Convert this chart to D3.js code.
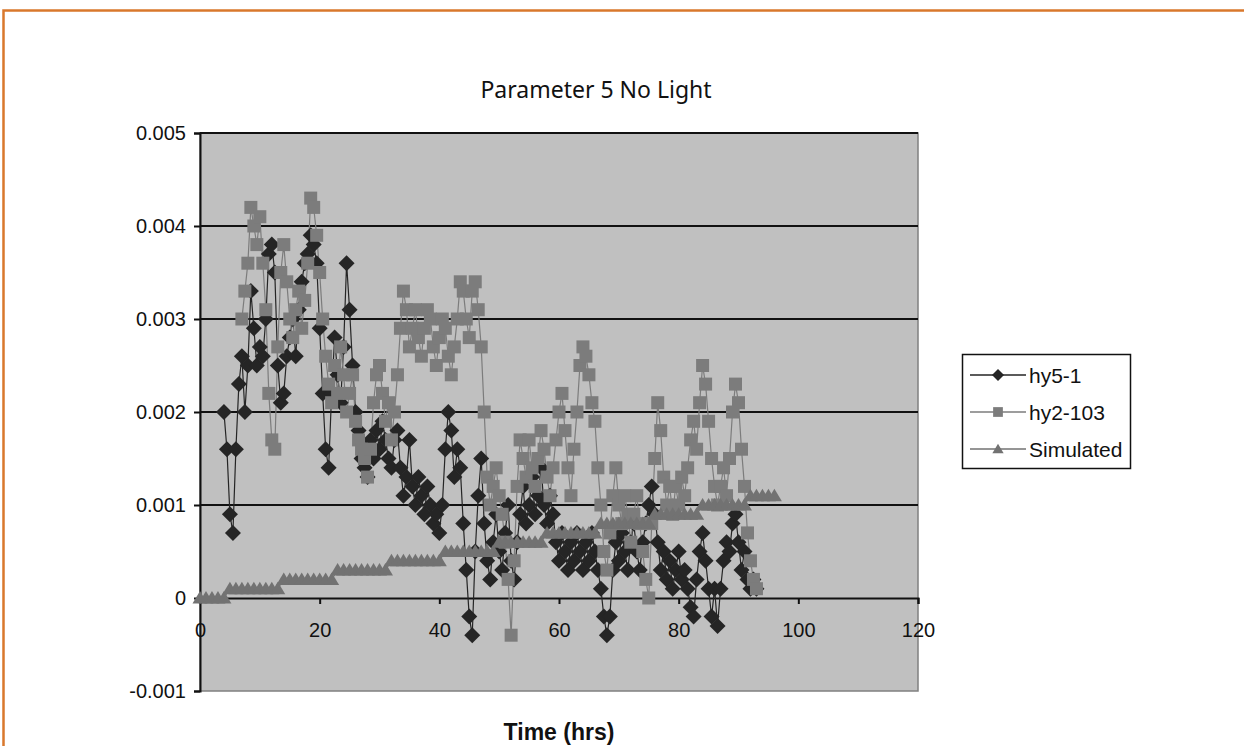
<!DOCTYPE html>
<html>
<head>
<meta charset="utf-8">
<script src="https://cdnjs.cloudflare.com/ajax/libs/d3/7.8.5/d3.min.js"></script>
<style>
  body { margin: 0; background: #fff; }
  svg { display: block; }
</style>
</head>
<body>
<script>
// readings every half hour
let hy51Start = 4.0;
let hy51Values = [
  0.0020, 0.0016, 0.0009, 0.0007, 0.0016, 0.0023, 0.0026, 0.0020, 0.0025, 0.0033,
  0.0029, 0.0025, 0.0027, 0.0026, 0.0030, 0.0037, 0.0038, 0.0035, 0.0025, 0.0021,
  0.0022, 0.0026, 0.0028, 0.0030, 0.0026, 0.0031, 0.0034, 0.0036, 0.0037, 0.0039,
  0.0038, 0.0036, 0.0029, 0.0022, 0.0016, 0.0014, 0.0022, 0.0028, 0.0024, 0.0021,
  0.0027, 0.0036, 0.0031, 0.0025, 0.0020, 0.0018, 0.0015, 0.0014, 0.0013, 0.0017,
  0.0015, 0.0018, 0.0016, 0.0019, 0.0017, 0.0015, 0.0014, 0.0017, 0.0018, 0.0014,
  0.0011, 0.0013, 0.0017, 0.0012, 0.0010, 0.0013, 0.0011, 0.0009, 0.0012, 0.0010,
  0.0008, 0.0009, 0.0007, 0.0010, 0.0016, 0.0020, 0.0018, 0.0013, 0.0016, 0.0014,
  0.0008, 0.0003, -0.0002, -0.0004, 0.0005, 0.0011, 0.0015, 0.0008, 0.0004, 0.0002,
  0.0006, 0.0009, 0.0005, 0.0003, 0.0007, 0.0010, 0.0004, 0.0002, 0.0006, 0.0009,
  0.0012, 0.0008, 0.0010, 0.0013, 0.0009, 0.0011, 0.0014, 0.0010, 0.0008, 0.0011,
  0.0009, 0.0006, 0.0004, 0.0007, 0.0005, 0.0003, 0.0006, 0.0004, 0.0007, 0.0005,
  0.0003, 0.0006, 0.0004, 0.0007, 0.0005, 0.0003, 0.0001, -0.0002, -0.0004, -0.0002,
  0.0003, 0.0006, 0.0004, 0.0007, 0.0005, 0.0003, 0.0006, 0.0008, 0.0005, 0.0003,
  0.0006, 0.0008, 0.0010, 0.0012, 0.0009, 0.0006, 0.0003, 0.0005, 0.0002, 0.0004,
  0.0001, 0.0003, 0.0005, 0.0002, 0.0003, 0.0001, -0.0001, -0.0002, 0.0002, 0.0005,
  0.0007, 0.0004, 0.0001, -0.0002, 0.0001, -0.0003, 0.0001, 0.0004, 0.0006, 0.0005,
  0.0008, 0.0009, 0.0006, 0.0003, 0.0005, 0.0002, 0.0001, 0.0002, 0.0001
];

let hy2Start = 7.0;
let hy2Values = [
  0.0030, 0.0033, 0.0036, 0.0042, 0.0040, 0.0038, 0.0041, 0.0036, 0.0031, 0.0022,
  0.0017, 0.0016, 0.0027, 0.0035, 0.0038, 0.0034, 0.0030, 0.0028, 0.0031, 0.0033,
  0.0029, 0.0032, 0.0036, 0.0043, 0.0042, 0.0039, 0.0035, 0.0030, 0.0026, 0.0023,
  0.0021, 0.0025, 0.0022, 0.0027, 0.0024, 0.0020, 0.0022, 0.0024, 0.0019, 0.0017,
  0.0016, 0.0015, 0.0013, 0.0016, 0.0021, 0.0024, 0.0025, 0.0022, 0.0019, 0.0021,
  0.0017, 0.0020, 0.0024, 0.0029, 0.0033, 0.0031, 0.0027, 0.0029, 0.0031, 0.0028,
  0.0026, 0.0029, 0.0031, 0.0030, 0.0027, 0.0025, 0.0028, 0.0030, 0.0029, 0.0026,
  0.0024, 0.0027, 0.0030, 0.0034, 0.0033, 0.0030, 0.0028, 0.0033, 0.0034, 0.0031,
  0.0027, 0.0020, 0.0013, 0.0010, 0.0012, 0.0014, 0.0011, 0.0009, 0.0006, 0.0002,
  -0.0004, 0.0004, 0.0012, 0.0017, 0.0015, 0.0013, 0.0017, 0.0014, 0.0012, 0.0015,
  0.0018, 0.0016, 0.0013, 0.0011, 0.0014, 0.0017, 0.0020, 0.0022, 0.0018, 0.0014,
  0.0011, 0.0016, 0.0020, 0.0025, 0.0027, 0.0026, 0.0024, 0.0021, 0.0019, 0.0014,
  0.0010, 0.0005, 0.0003, 0.0007, 0.0011, 0.0014, 0.0010, 0.0008, 0.0011, 0.0009,
  0.0006, 0.0009, 0.0011, 0.0008, 0.0005, 0.0002, 0.0000, 0.0008, 0.0015, 0.0021,
  0.0018, 0.0013, 0.0010, 0.0012, 0.0009, 0.0012, 0.0010, 0.0013, 0.0011, 0.0014,
  0.0017, 0.0019, 0.0016, 0.0021, 0.0025, 0.0023, 0.0019, 0.0015, 0.0012, 0.0010,
  0.0012, 0.0014, 0.0011, 0.0015, 0.0020, 0.0023, 0.0021, 0.0016, 0.0012, 0.0007,
  0.0004, 0.0002, 0.0001
];

// simulated model, one value per hour from t = 0
let simStart = 0;
let simValues = [
  0, 0, 0, 0, 0, 0.0001, 0.0001, 0.0001, 0.0001, 0.0001,
  0.0001, 0.0001, 0.0001, 0.0001, 0.0002, 0.0002, 0.0002, 0.0002, 0.0002, 0.0002,
  0.0002, 0.0002, 0.0002, 0.0003, 0.0003, 0.0003, 0.0003, 0.0003, 0.0003, 0.0003,
  0.0003, 0.0003, 0.0004, 0.0004, 0.0004, 0.0004, 0.0004, 0.0004, 0.0004, 0.0004,
  0.0004, 0.0005, 0.0005, 0.0005, 0.0005, 0.0005, 0.0005, 0.0005, 0.0005, 0.0005,
  0.0006, 0.0006, 0.0006, 0.0006, 0.0006, 0.0006, 0.0006, 0.0006, 0.0007, 0.0007,
  0.0007, 0.0007, 0.0007, 0.0007, 0.0007, 0.0007, 0.0007, 0.0008, 0.0008, 0.0008,
  0.0008, 0.0008, 0.0008, 0.0008, 0.0008, 0.0008, 0.0009, 0.0009, 0.0009, 0.0009,
  0.0009, 0.0009, 0.0009, 0.0009, 0.0010, 0.0010, 0.0010, 0.0010, 0.0010, 0.0010,
  0.0010, 0.0010, 0.0011, 0.0011, 0.0011, 0.0011, 0.0011
];

let xTicks = [0, 20, 40, 60, 80, 100, 120];
let yTicks = [-0.001, 0, 0.001, 0.002, 0.003, 0.004, 0.005];
let seriesNames = ["hy5-1", "hy2-103", "Simulated"];

let width = 1244;
let height = 746;

let svg = d3.select("body").append("svg")
            .attr("width", width)
            .attr("height", height);

// orange frame, only top and left edges are inside the picture
svg.append("path")
   .attr("d", "M3.5,760 L3.5,10.5 L1260,10.5")
   .attr("fill", "none")
   .attr("stroke", "#d9782c")
   .attr("stroke-width", 2.5);

let plot = {left: 200, right: 918, top: 133, bottom: 691};

let x = d3.scaleLinear().domain([0, 120]).range([plot.left, plot.right]);
let y = d3.scaleLinear().domain([-0.001, 0.005]).range([plot.bottom, plot.top]);

function toPoints(start, step, values) {
  return values.map(function(v, i) { return {t: start + i * step, v: v}; });
}

let series = [
  {name: seriesNames[0], data: toPoints(hy51Start, 0.5, hy51Values), color: "#252525", shape: "diamond"},
  {name: seriesNames[1], data: toPoints(hy2Start, 0.5, hy2Values), color: "#7c7c7c", shape: "square"},
  {name: seriesNames[2], data: toPoints(simStart, 1, simValues), color: "#727272", shape: "triangle"}
];

function markerPath(shape, k) {
  if (shape === "diamond") return "M0," + (-8 * k) + "L" + (8 * k) + ",0L0," + (8 * k) + "L" + (-8 * k) + ",0Z";
  if (shape === "square") {
    let h = 6.5 * k;
    return "M" + (-h) + "," + (-h) + "H" + h + "V" + h + "H" + (-h) + "Z";
  }
  return "M0," + (-7 * k) + "L" + (7.5 * k) + "," + (5.5 * k) + "L" + (-7.5 * k) + "," + (5.5 * k) + "Z";
}

// plot area
svg.append("rect")
   .attr("x", plot.left)
   .attr("y", plot.top)
   .attr("width", plot.right - plot.left)
   .attr("height", plot.bottom - plot.top)
   .attr("fill", "#c0c0c0")
   .attr("stroke", "#808080")
   .attr("stroke-width", 1.5);

// gridlines
svg.append("g")
   .selectAll("line")
   .data(yTicks.filter(d => d > -0.001 && d !== 0))
   .enter().append("line")
   .attr("x1", plot.left)
   .attr("x2", plot.right)
   .attr("y1", d => y(d))
   .attr("y2", d => y(d))
   .attr("stroke", "#111")
   .attr("stroke-width", 2);

// y axis
let yAxis = svg.append("g")
   .attr("transform", "translate(" + plot.left + ",0)")
   .call(d3.axisLeft(y).tickValues(yTicks).tickSize(6).tickPadding(8)
           .tickFormat(d => d === 0 ? "0" : d3.format(".3f")(d).replace("−", "-")));

// x axis sits on the zero line
let xAxis = svg.append("g")
   .attr("transform", "translate(0," + y(0) + ")")
   .call(d3.axisBottom(x).tickValues(xTicks).tickSize(6).tickPadding(19).tickFormat(d3.format("d")));

[yAxis, xAxis].forEach(function(a) {
  a.select(".domain").attr("stroke", "#111").attr("stroke-width", 2);
  a.selectAll(".tick line").attr("stroke", "#111").attr("stroke-width", 2);
  a.selectAll(".tick text")
   .attr("fill", "#111")
   .style("font-family", "Liberation Sans, Arial, sans-serif")
   .style("font-size", "20px");
});

// series lines and markers
series.forEach(function(s) {
  let line = d3.line().x(d => x(d.t)).y(d => y(d.v));
  svg.append("path")
     .datum(s.data)
     .attr("d", line)
     .attr("fill", "none")
     .attr("stroke", s.color)
     .attr("stroke-width", 1.2);
});

series.forEach(function(s) {
  svg.append("g")
     .selectAll("path")
     .data(s.data)
     .enter().append("path")
     .attr("d", markerPath(s.shape, 1))
     .attr("transform", d => "translate(" + x(d.t) + "," + y(d.v) + ")")
     .attr("fill", s.color);
});

// title
svg.append("text")
   .attr("x", 596)
   .attr("y", 98)
   .attr("text-anchor", "middle")
   .style("font-family", "Noto Sans, sans-serif")
   .style("font-size", "23px")
   .attr("fill", "#111")
   .text("Parameter 5 No Light");

svg.append("text")
   .attr("x", 559)
   .attr("y", 740)
   .attr("text-anchor", "middle")
   .style("font-family", "Liberation Sans, Arial, sans-serif")
   .style("font-size", "23px")
   .style("font-weight", "bold")
   .attr("fill", "#111")
   .text("Time (hrs)");

// legend
let legend = svg.append("g");
legend.append("rect")
      .attr("x", 962.5)
      .attr("y", 354.5)
      .attr("width", 168)
      .attr("height", 114)
      .attr("fill", "#fff")
      .attr("stroke", "#111")
      .attr("stroke-width", 1.5);

let entryY = [375, 412, 449];
series.forEach(function(s, i) {
  let g = legend.append("g").attr("transform", "translate(0," + entryY[i] + ")");
  g.append("line")
   .attr("x1", 970).attr("x2", 1026)
   .attr("stroke", s.color).attr("stroke-width", 1.5);
  g.append("path")
   .attr("d", markerPath(s.shape, 0.75))
   .attr("transform", "translate(998,0)")
   .attr("fill", s.color);
  g.append("text")
   .attr("x", 1029)
   .attr("y", 7.5)
   .style("font-family", "Liberation Sans, Arial, sans-serif")
   .style("font-size", "21px")
   .attr("fill", "#111")
   .text(s.name);
});
</script>
</body>
</html>
